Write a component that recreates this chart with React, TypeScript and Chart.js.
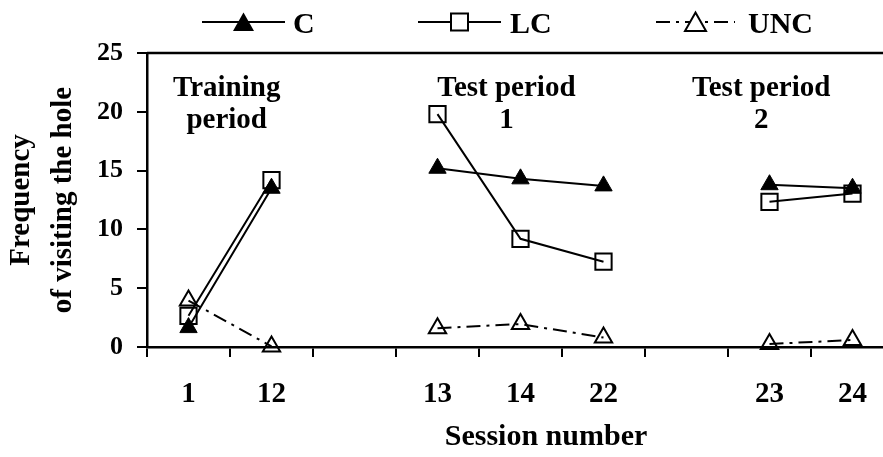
import React, { useEffect, useRef } from 'react';
import { Chart, registerables } from 'chart.js';

Chart.register(...registerables);

// ---- data ----
const sessions = ['1', '12', '', '13', '14', '22', '', '23', '24'];
const cValues = [1.65, 13.5, null, 15.2, 14.3, 13.7, null, 13.8, 13.5];
const lcValues = [2.65, 14.2, null, 19.8, 9.2, 7.25, null, 12.35, 13.05];
const uncValues = [3.95, 0.05, null, 1.6, 1.95, 0.8, null, 0.25, 0.6];
const seriesNames = ['C', 'LC', 'UNC'];
const yTickValues = [0, 5, 10, 15, 20, 25];
const periodTexts = [
  ['Training', 'period'],
  ['Test period', '1'],
  ['Test period', '2'],
];
const periodAnchorIndex = [0.46, 3.83, 6.9];
const periodTopValue = 21.35;

const FONT = '"Liberation Serif", "Times New Roman", serif';
const UNC_DASH = [14, 6, 3, 6];

function markerPath(ctx: CanvasRenderingContext2D, kind: string, x: number, y: number) {
  ctx.beginPath();
  if (kind === 'rect') {
    ctx.rect(x - 8.5, y - 8.5, 17, 17);
  } else {
    ctx.moveTo(x, y - 9.5);
    ctx.lineTo(x + 10.5, y + 9);
    ctx.lineTo(x - 10.5, y + 9);
    ctx.closePath();
  }
}

const decorPlugin = {
  id: 'decor',
  afterLayout(chart: any) {
    // centre the x-axis title like the original (plot area continues past the crop)
    const xs = chart.scales.x;
    xs.right = xs.right + 51;
  },
  afterDraw(chart: any) {
    const { ctx, chartArea, scales } = chart;
    ctx.save();
    // plot box top/right border
    ctx.strokeStyle = '#000';
    ctx.lineWidth = 2.5;
    ctx.setLineDash([]);
    ctx.beginPath();
    ctx.moveTo(chartArea.left, chartArea.top);
    ctx.lineTo(chartArea.right, chartArea.top);
    ctx.lineTo(chartArea.right, chartArea.bottom);
    ctx.stroke();

    // period annotations
    ctx.fillStyle = '#000';
    ctx.font = `bold 29px ${FONT}`;
    ctx.textAlign = 'center';
    ctx.textBaseline = 'alphabetic';
    periodTexts.forEach((lines, i) => {
      const x = scales.x.getPixelForValue(periodAnchorIndex[i]);
      const y0 = scales.y.getPixelForValue(periodTopValue);
      lines.forEach((t, j) => ctx.fillText(t, x, y0 + j * 32));
    });

    // legend
    const legendY = 22;
    const items = [
      { x: 202, len: 83, gap: 8, kind: 'tri', fill: true, dash: [] as number[] },
      { x: 418, len: 83, gap: 9, kind: 'rect', fill: false, dash: [] as number[] },
      { x: 656, len: 79, gap: 13, kind: 'tri', fill: false, dash: UNC_DASH },
    ];
    ctx.textAlign = 'left';
    ctx.font = `bold 30px ${FONT}`;
    items.forEach((it, i) => {
      ctx.strokeStyle = '#000';
      ctx.lineWidth = 2;
      ctx.setLineDash(it.dash);
      ctx.beginPath();
      ctx.moveTo(it.x, legendY);
      ctx.lineTo(it.x + it.len, legendY);
      ctx.stroke();
      ctx.setLineDash([]);
      markerPath(ctx, it.kind, it.x + it.len / 2, legendY);
      if (it.fill) {
        ctx.fillStyle = '#000';
        ctx.fill();
      } else {
        ctx.fillStyle = '#fff';
        ctx.fill();
        ctx.lineWidth = 2;
        ctx.stroke();
      }
      ctx.fillStyle = '#000';
      ctx.fillText(seriesNames[i], it.x + it.len + it.gap, legendY + 11);
    });
    ctx.restore();
  },
};

export default function App() {
  const canvasRef = useRef<HTMLCanvasElement | null>(null);

  useEffect(() => {
    const canvas = canvasRef.current;
    if (!canvas) return;
    const tickFont = (size: number) => ({ family: FONT, size, weight: 'bold' as const });
    const chart = new Chart(canvas, {
      type: 'line',
      data: {
        labels: sessions,
        datasets: [
          {
            label: seriesNames[0],
            data: cValues,
            borderColor: '#000',
            borderWidth: 2,
            pointStyle: 'triangle',
            pointRadius: 10,
            pointBackgroundColor: '#000',
            pointBorderColor: '#000',
            pointBorderWidth: 1,
            spanGaps: false,
            tension: 0,
            clip: false,
          },
          {
            label: seriesNames[1],
            data: lcValues,
            borderColor: '#000',
            borderWidth: 2,
            pointStyle: 'rect',
            pointRadius: 11.5,
            pointBackgroundColor: 'rgba(255,255,255,0)',
            pointBorderColor: '#000',
            pointBorderWidth: 2,
            spanGaps: false,
            tension: 0,
            clip: false,
          },
          {
            label: seriesNames[2],
            data: uncValues,
            borderColor: '#000',
            borderWidth: 2,
            borderDash: UNC_DASH,
            pointStyle: 'triangle',
            pointRadius: 10,
            pointBackgroundColor: 'rgba(255,255,255,0)',
            pointBorderColor: '#000',
            pointBorderWidth: 2,
            spanGaps: false,
            tension: 0,
            clip: false,
          },
        ],
      },
      options: {
        responsive: false,
        animation: false,
        devicePixelRatio: 1,
        layout: { padding: { top: 53, right: 16, left: 0, bottom: 0 } },
        plugins: { legend: { display: false }, tooltip: { enabled: false } },
        scales: {
          x: {
            type: 'category',
            offset: true,
            grid: {
              offset: true,
              drawOnChartArea: false,
              drawTicks: true,
              tickLength: 10,
              color: '#000',
              lineWidth: 2,
            },
            border: { display: true, color: '#000', width: 2.5 },
            ticks: {
              color: '#000',
              font: tickFont(29),
              padding: 20,
              maxRotation: 0,
              autoSkip: false,
            },
            title: {
              display: true,
              text: 'Session number',
              color: '#000',
              font: tickFont(30),
              padding: { top: 0, bottom: 2 },
            },
            afterFit: (s: any) => {
              s.height = 110;
            },
          },
          y: {
            min: 0,
            max: 25,
            afterBuildTicks: (s: any) => {
              s.ticks = yTickValues.map((v) => ({ value: v }));
            },
            grid: {
              drawOnChartArea: false,
              drawTicks: true,
              tickLength: 10,
              color: '#000',
              lineWidth: 2,
            },
            border: { display: true, color: '#000', width: 2.5 },
            ticks: {
              color: '#000',
              font: tickFont(26),
              padding: 14,
            },
            title: {
              display: true,
              text: ['Frequency', 'of visiting the hole'],
              color: '#000',
              font: { family: FONT, size: 29, weight: 'bold', lineHeight: 1.45 },
              padding: 0,
            },
            afterFit: (s: any) => {
              s.width = 147;
            },
          },
        },
      },
      plugins: [decorPlugin],
    });
    return () => chart.destroy();
  }, []);

  return (
    <div
      style={{
        position: 'fixed',
        left: 0,
        top: 0,
        width: 883,
        height: 457,
        overflow: 'hidden',
        background: '#fff',
      }}
    >
      <canvas
        ref={canvasRef}
        width={910}
        height={457}
        style={{ display: 'block', width: 910, height: 457 }}
      />
    </div>
  );
}
